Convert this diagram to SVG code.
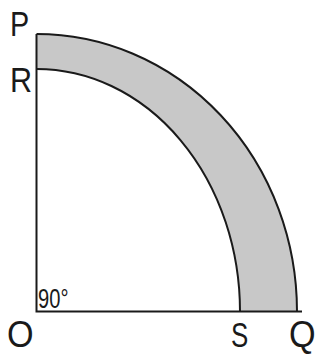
<svg xmlns="http://www.w3.org/2000/svg" width="320" height="354" viewBox="0 0 320 354">
<style>
.band{fill:#c8c8c8;stroke:none}
.arc{fill:none;stroke:#1a1a1a;stroke-width:2}
.ln{stroke:#1a1a1a;stroke-width:2;fill:none}
.lbl{font-family:"Liberation Sans","Arial",sans-serif;font-size:36px;fill:#1a1a1a}
.ang{font-family:"Liberation Sans","Arial",sans-serif;font-size:28px;fill:#1a1a1a}
</style>
<rect width="320" height="354" fill="#ffffff"/>
<g id="band">
<path class="band" d="M36.5,34 A260.5,277.5 0 0 1 297,311.5 L240,311.5 A203.5,242.5 0 0 0 36.5,69 Z"/>
<path class="arc" d="M36.5,34 A260.5,277.5 0 0 1 297,311.5"/>
<path class="arc" d="M36.5,69 A203.5,242.5 0 0 1 240,311.5"/>
</g>
<g id="axes">
<path class="ln" d="M36.5,34 L36.5,311.5 L302,311.5"/>
</g>
<g id="labels">
<text class="lbl" transform="translate(10,36) scale(0.8,1)">P</text>
<text class="lbl" transform="translate(10,92) scale(0.85,1)">R</text>
<text class="lbl" transform="translate(7,347) scale(0.95,1)">O</text>
<text class="lbl" transform="translate(231,347) scale(0.72,1)">S</text>
<text class="lbl" transform="translate(289,347) scale(0.95,1)">Q</text>
<text class="ang" transform="translate(38,308) scale(0.72,1)">90°</text>
</g>
</svg>
